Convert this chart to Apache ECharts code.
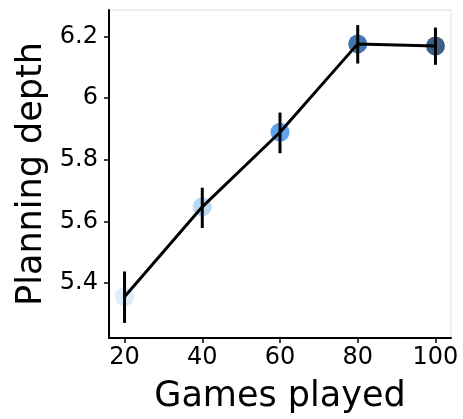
<!DOCTYPE html>
<html><head><meta charset="utf-8">
<script src="https://cdn.jsdelivr.net/npm/echarts@6/dist/echarts.min.js"></script>
<style>html,body{margin:0;padding:0;background:#fff}#c{width:463px;height:419px}</style>
</head><body><div id="c"></div>
<script>
const games = [20, 40, 60, 80, 100];
const depth = [5.355, 5.647, 5.889, 6.176, 6.169];
const errLow = [5.270, 5.578, 5.821, 6.112, 6.108];
const errHigh = [5.437, 5.709, 5.953, 6.237, 6.229];
const pointColors = ['#d6e6f7', '#a6cdf3', '#3a8de4', '#10559d', '#0d3a66'];
const xTicks = [20, 40, 60, 80, 100];
const yTicks = [5.4, 5.6, 5.8, 6.0, 6.2];

const chart = echarts.init(document.getElementById('c'));
const font = 'DejaVu Sans';
chart.setOption({
  animation: false,
  grid: {left: 109, right: 12, top: 10, bottom: 77, show: true, borderColor: '#dddddd', borderWidth: 1},
  xAxis: {
    type: 'value', min: 16, max: 104,
    name: 'Games played', nameLocation: 'middle', nameGap: 41,
    nameTextStyle: {fontFamily: font, fontSize: 35, color: '#000'},
    axisLine: {lineStyle: {color: '#000', width: 2}},
    axisTick: {show: true, length: 5, lineStyle: {color: '#000', width: 1.5}, customValues: xTicks},
    axisLabel: {fontFamily: font, fontSize: 24, color: '#000', margin: 8, customValues: xTicks},
    splitLine: {show: false}
  },
  yAxis: {
    type: 'value', min: 5.221, max: 6.286,
    name: 'Planning depth', nameLocation: 'middle', nameGap: 60,
    nameTextStyle: {fontFamily: font, fontSize: 35, color: '#000'},
    axisLine: {show: true, lineStyle: {color: '#000', width: 2}},
    axisTick: {show: true, length: 5, lineStyle: {color: '#000', width: 1.5}, customValues: yTicks},
    axisLabel: {fontFamily: font, fontSize: 24, color: '#000', margin: 11, customValues: yTicks,
      formatter: v => String(+(+v).toFixed(1))},
    splitLine: {show: false}
  },
  series: [
    {
      type: 'scatter', symbolSize: 19, z: 1,
      data: games.map((g, i) => ({value: [g, depth[i]], itemStyle: {color: pointColors[i]}}))
    },
    {
      type: 'line', z: 2, symbol: 'none',
      lineStyle: {color: '#000', width: 3},
      data: games.map((g, i) => [g, depth[i]])
    },
    {
      type: 'custom', z: 3,
      data: games.map((g, i) => [g, errLow[i], errHigh[i]]),
      renderItem: (params, api) => {
        const a = api.coord([api.value(0), api.value(1)]);
        const b = api.coord([api.value(0), api.value(2)]);
        return {type: 'line', shape: {x1: a[0], y1: a[1], x2: b[0], y2: b[1]},
          style: {stroke: '#000', lineWidth: 3}};
      }
    }
  ]
});
</script></body></html>
